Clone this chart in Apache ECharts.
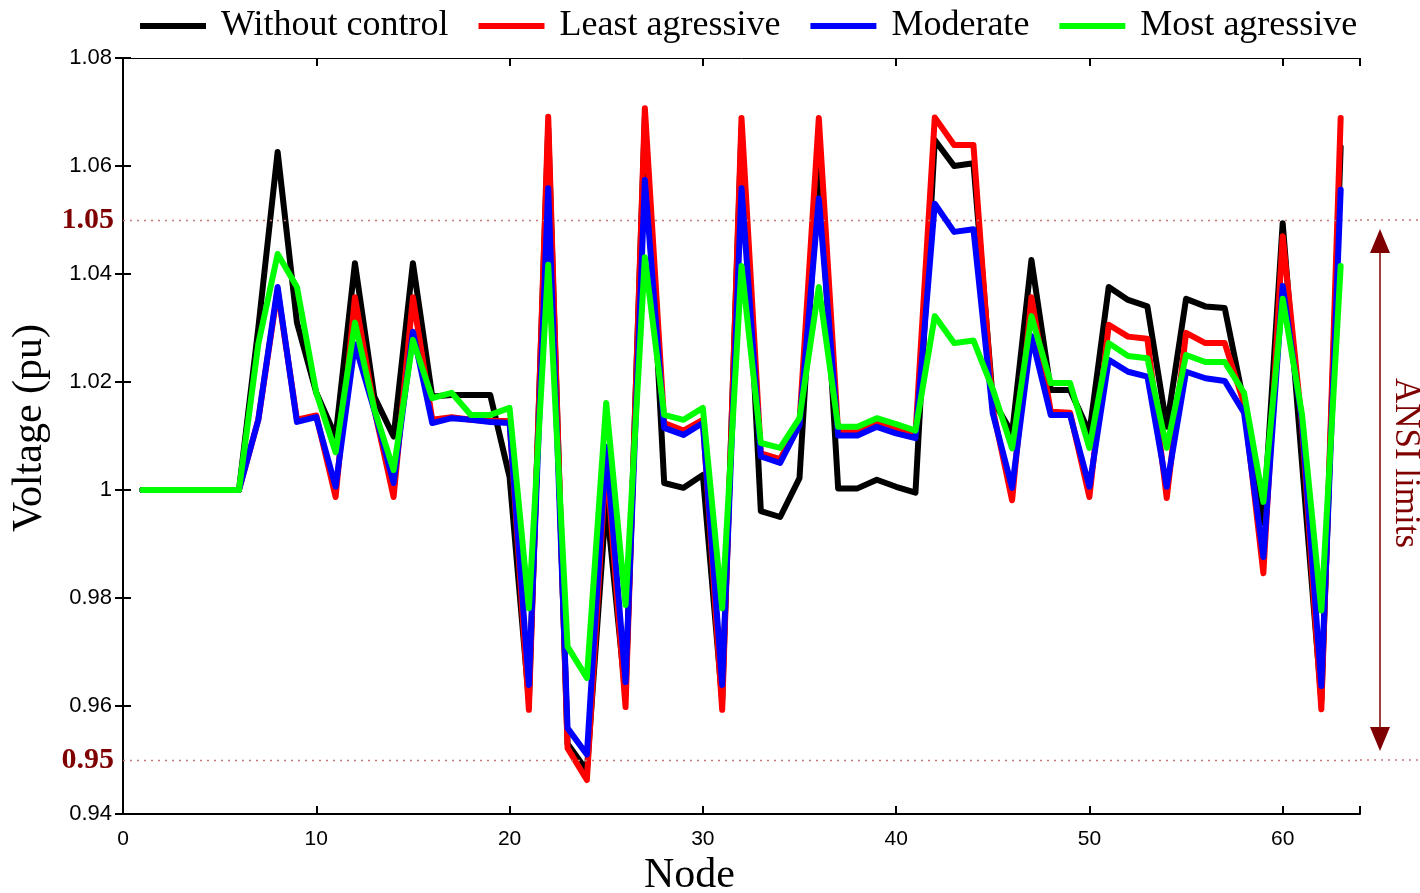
<!DOCTYPE html>
<html>
<head>
<meta charset="utf-8">
<script src="https://cdn.jsdelivr.net/npm/echarts@6/dist/echarts.min.js"></script>
<style>
  html, body { margin: 0; padding: 0; background: #fff; }
  #chart { width: 1420px; height: 893px; }
</style>
</head>
<body>
<div id="chart"></div>
<script>
// node numbers
const nodes = [1, 2, 3, 4, 5, 6, 7, 8, 9, 10, 11, 12, 13, 14, 15, 16, 17, 18, 19, 20,
  21, 22, 23, 24, 25, 26, 27, 28, 29, 30, 31, 32, 33, 34, 35, 36, 37, 38, 39, 40,
  41, 42, 43, 44, 45, 46, 47, 48, 49, 50, 51, 52, 53, 54, 55, 56, 57, 58, 59, 60,
  61, 62, 63]

const withoutControl = [1.0, 1.0, 1.0, 1.0, 1.0, 1.0, 1.030, 1.0626, 1.031, 1.018,
  1.0099, 1.042, 1.0173, 1.0099, 1.042, 1.0173, 1.0176, 1.0176, 1.0176, 1.0024,
  0.961, 1.067, 0.953, 0.948, 0.998, 0.962, 1.069, 1.0013, 1.0004, 1.0028,
  0.961, 1.067, 0.9961, 0.995, 1.0022, 1.061, 1.0003, 1.0003, 1.0019, 1.0006,
  0.9995, 1.0648, 1.060, 1.0605, 1.0167, 1.0105, 1.0426, 1.0185, 1.0185, 1.0106,
  1.0376, 1.0352, 1.034, 1.0117, 1.0354, 1.034, 1.0337, 1.016, 0.9939, 1.0494,
  1.005, 0.961, 1.0635]

const leastAgressive = [1.0, 1.0, 1.0, 1.0, 1.0, 1.0, 1.013, 1.037, 1.013, 1.0138,
  0.9987, 1.0357, 1.015, 0.9987, 1.0357, 1.013, 1.0135, 1.013, 1.0128, 1.0128,
  0.9593, 1.0691, 0.9522, 0.9463, 1.006, 0.9598, 1.0707, 1.0124, 1.011, 1.013,
  0.9593, 1.0689, 1.0068, 1.0057, 1.0125, 1.0689, 1.0107, 1.0107, 1.0123, 1.0113,
  1.0103, 1.069, 1.0639, 1.0639, 1.015, 0.9981, 1.0357, 1.0145, 1.0143, 0.9987,
  1.0306, 1.0284, 1.028, 0.9985, 1.0291, 1.0272, 1.0272, 1.016, 0.9846, 1.047,
  1.012, 0.9594, 1.0689]

const moderate = [1.0, 1.0, 1.0, 1.0, 1.0, 1.0, 1.013, 1.0376, 1.0126, 1.0135,
  1.0006, 1.027, 1.0148, 1.0013, 1.0293, 1.0124, 1.0133, 1.013, 1.0126, 1.0124,
  0.9639, 1.0559, 0.9559, 0.951, 1.008, 0.9644, 1.0574, 1.0115, 1.0102, 1.0124,
  0.9639, 1.0559, 1.0062, 1.005, 1.012, 1.054, 1.0101, 1.0101, 1.0117, 1.0105,
  1.0096, 1.053, 1.0478, 1.0483, 1.0142, 1.0004, 1.0285, 1.0139, 1.0139, 1.0006,
  1.0241, 1.0219, 1.021, 1.0006, 1.0219, 1.0207, 1.0202, 1.0143, 0.9876, 1.0378,
  1.0128, 0.9637, 1.0556]

const mostAgressive = [1.0, 1.0, 1.0, 1.0, 1.0, 1.0, 1.027, 1.0437, 1.0376, 1.018,
  1.007, 1.031, 1.015, 1.0037, 1.0278, 1.017, 1.018, 1.0139, 1.0139, 1.0152,
  0.9781, 1.0417, 0.971, 0.9652, 1.0161, 0.9787, 1.0431, 1.0139, 1.013, 1.0152,
  0.9781, 1.0415, 1.0087, 1.0078, 1.0133, 1.0376, 1.0117, 1.0117, 1.0133, 1.0122,
  1.011, 1.0322, 1.0272, 1.0277, 1.0187, 1.0077, 1.0322, 1.0198, 1.0198, 1.0078,
  1.0272, 1.0248, 1.0244, 1.0078, 1.025, 1.0237, 1.0237, 1.018, 0.9978, 1.0354,
  1.014, 0.9777, 1.0415]

const ansiLimits = [0.95, 1.05]

const names = ['Without control', 'Least agressive', 'Moderate', 'Most agressive']
const colors = ['#000000', '#ff0000', '#0000ff', '#00ff00']
const values = [withoutControl, leastAgressive, moderate, mostAgressive]

const limitColor = '#7f0000'
const serif = '"Liberation Serif", "DejaVu Serif", serif'
const sans = '"Liberation Sans", Arial, sans-serif'

const chart = echarts.init(document.getElementById('chart'))

const series = values.map((v, i) => ({
  name: names[i],
  type: 'line',
  symbol: 'none',
  animation: false,
  data: nodes.map((n, k) => [n, v[k]]),
  lineStyle: { color: colors[i], width: 6, join: 'round', cap: 'round' },
  itemStyle: { color: colors[i] },
  z: 3 + i
}))

// dotted ANSI limit lines with bold labels on the left
series[0].markLine = {
  silent: true,
  symbol: 'none',
  animation: false,
  lineStyle: { color: '#c47a7a', width: 1.3, type: [2, 5] },
  label: {
    position: 'start',
    distance: 9,
    color: limitColor,
    fontFamily: serif,
    fontWeight: 'bold',
    fontSize: 30,
    formatter: p => p.value.toFixed(2)
  },
  data: ansiLimits.map(v => ({ yAxis: v }))
}

const option = {
  animation: false,
  backgroundColor: '#fff',
  grid: { left: 123, right: 60, top: 58, bottom: 79, outerBoundsMode: 'none' },
  legend: {
    top: 8,
    left: 140,
    padding: 0,
    itemWidth: 66,
    itemHeight: 6,
    itemGap: 30,
    icon: 'rect',
    textStyle: { fontFamily: serif, fontSize: 36, color: '#000', padding: [0, 0, 0, 10] },
    data: names
  },
  xAxis: [
    {
      type: 'value',
      min: 0,
      max: 64,
      interval: 10,
      name: 'Node',
      nameLocation: 'middle',
      nameGap: 40,
      nameTextStyle: { fontFamily: serif, fontSize: 42, color: '#000', padding: [0, 104, 0, 0] },
      axisLine: { show: true, lineStyle: { color: '#000', width: 2 } },
      axisTick: { inside: true, length: 8, lineStyle: { color: '#000', width: 2 } },
      axisLabel: {
        fontFamily: sans,
        fontSize: 21,
        color: '#000',
        margin: 15,
        formatter: v => (v % 10 === 0 ? String(v) : '')
      },
      splitLine: { show: false }
    },
    {
      type: 'value',
      position: 'top',
      min: 0,
      max: 64,
      interval: 10,
      axisLine: { show: true, lineStyle: { color: '#000', width: 1 } },
      axisTick: { inside: true, length: 8, lineStyle: { color: '#000', width: 2 } },
      axisLabel: { show: false },
      splitLine: { show: false }
    }
  ],
  yAxis: [
    {
      type: 'value',
      min: 0.94,
      max: 1.08,
      interval: 0.02,
      name: 'Voltage (pu)',
      nameLocation: 'middle',
      nameGap: 72,
      nameTextStyle: { fontFamily: serif, fontSize: 42, color: '#000', padding: [0, 0, 0, 16] },
      axisLine: { show: true, lineStyle: { color: '#000', width: 2 } },
      axisTick: { inside: true, length: 8, lineStyle: { color: '#000', width: 2 } },
      axisLabel: {
        fontFamily: sans,
        fontSize: 22,
        color: '#000',
        margin: 11,
        formatter: v => String(+v.toFixed(2))
      },
      splitLine: { show: false }
    },
    {
      type: 'value',
      position: 'right',
      min: 0.94,
      max: 1.08,
      interval: 0.02,
      axisLine: { show: true, lineStyle: { color: '#000', width: 1.5 } },
      axisTick: { inside: true, length: 8, lineStyle: { color: '#000', width: 2 } },
      axisLabel: { show: false },
      splitLine: { show: false }
    }
  ],
  series: series
}

chart.setOption(option)

// right-hand ANSI annotation, placed from the y axis scale
const yHi = chart.convertToPixel({ yAxisIndex: 0 }, ansiLimits[1])
const yLo = chart.convertToPixel({ yAxisIndex: 0 }, ansiLimits[0])
const yText = chart.convertToPixel({ yAxisIndex: 0 }, 1.005)
const xRight = chart.convertToPixel({ xAxisIndex: 0 }, 64)
const arrowX = xRight + 20
const head = 24
const arrowTop = yHi + 9
const arrowBottom = yLo - 9

chart.setOption({
  graphic: [
    {
      type: 'line',
      shape: { x1: xRight, y1: yHi, x2: 1420, y2: yHi },
      style: { stroke: '#c47a7a', lineWidth: 1.3, lineDash: [2, 5] },
      silent: true
    },
    {
      type: 'line',
      shape: { x1: xRight, y1: yLo, x2: 1420, y2: yLo },
      style: { stroke: '#c47a7a', lineWidth: 1.3, lineDash: [2, 5] },
      silent: true
    },
    {
      type: 'line',
      shape: { x1: arrowX, y1: arrowTop + head, x2: arrowX, y2: arrowBottom - head },
      style: { stroke: limitColor, lineWidth: 1.5 },
      silent: true
    },
    {
      type: 'polygon',
      shape: { points: [[arrowX, arrowTop], [arrowX - 10, arrowTop + head], [arrowX + 10, arrowTop + head]] },
      style: { fill: limitColor },
      silent: true
    },
    {
      type: 'polygon',
      shape: { points: [[arrowX, arrowBottom], [arrowX - 10, arrowBottom - head], [arrowX + 10, arrowBottom - head]] },
      style: { fill: limitColor },
      silent: true
    },
    {
      type: 'text',
      x: arrowX + 25,
      y: yText,
      rotation: -Math.PI / 2,
      style: {
        text: 'ANSI limits',
        fill: limitColor,
        font: '35px ' + serif,
        align: 'center',
        verticalAlign: 'middle'
      },
      silent: true
    }
  ]
})

window.addEventListener('resize', () => chart.resize())
</script>
</body>
</html>
